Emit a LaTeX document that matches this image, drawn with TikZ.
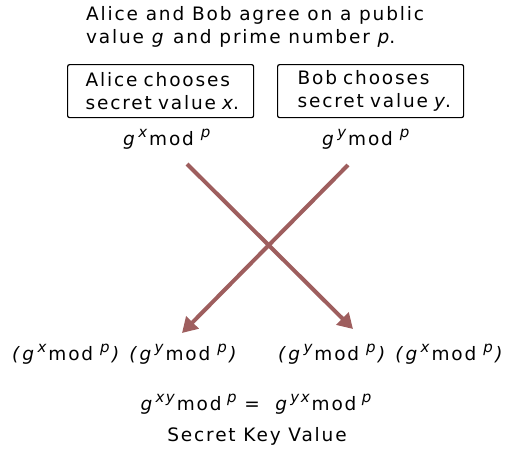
\documentclass[tikz,border=0pt]{standalone}
\usepackage{fontspec}
\setmainfont{DejaVu Sans}[LetterSpace=10]
\usetikzlibrary{arrows.meta}
\definecolor{arrowc}{RGB}{158,94,94}
\newcommand\supr[1]{\raisebox{7.5pt}{\fontsize{15}{15}\selectfont\itshape #1}}
\newcommand\gmod[1]{\textit{g}\hspace{1.5pt}\supr{#1}\hspace{2pt}mod\hspace{7pt}\supr{p}}
\newcommand\pgmod[1]{\textit{(}\hspace{0.5pt}\gmod{#1}\hspace{2.5pt}\textit{)}}
\newcommand\pgap{\hspace{8pt}}
\tikzset{
  txt/.style={inner sep=0pt, anchor=base west, font=\fontsize{18.5}{23}\selectfont},
  ctxt/.style={inner sep=0pt, anchor=base, font=\fontsize{18.5}{23}\selectfont},
  secbox/.style={draw, line width=1.2pt, rounded corners=2pt, anchor=north west, inner sep=0pt,
    minimum width=186pt, minimum height=53pt, text width=186pt, align=left,
    font=\fontsize{18.5}{23}\selectfont},
  xarrow/.style={draw=arrowc, line width=4pt, -{Triangle[length=15pt,width=17pt]}}
}
\begin{document}
\begin{tikzpicture}[x=1pt,y=-1pt]
\useasboundingbox (0,0) rectangle (509,448);
\node[txt] (t1) at (86,20) {Alice and Bob agree on a public};
\node[txt] (t2) at (86,43) {value \textit{g} and prime number \textit{p}.};
\node[secbox] (alice) at (67,64) {\hspace*{18pt}Alice chooses\\\hspace*{18pt}secret value \textit{x}.};
\node[secbox] (bob) at (277,64) {\hspace*{20pt}Bob chooses\\\hspace*{20pt}secret value \textit{y}.};
\node[txt] (ga) at (123,145) {\gmod{x}};
\node[txt] (gb) at (322,145) {\gmod{y}};
\coordinate (a1s) at (187,164);
\coordinate (a1e) at (353,329);
\coordinate (a2s) at (348,165);
\coordinate (a2e) at (182,333);
\draw[xarrow] (a1s) -- (a1e);
\draw[xarrow] (a2s) -- (a2e);
\node[txt] (pa) at (12,360) {\pgmod{x}\pgap\pgmod{y}};
\node[txt] (pb) at (278,360) {\pgmod{y}\pgap\pgmod{x}};
\node[ctxt] (eq) at (256,410) {\textit{g}\hspace{1.5pt}\supr{xy}\hspace{2pt}mod\hspace{5.5pt}\supr{p} =\ \ \textit{g}\hspace{1.5pt}\supr{yx}\hspace{2pt}mod\hspace{5.5pt}\supr{p}};
\node[ctxt] (key) at (257,441) {Secret Key Value};
\end{tikzpicture}
\end{document}
